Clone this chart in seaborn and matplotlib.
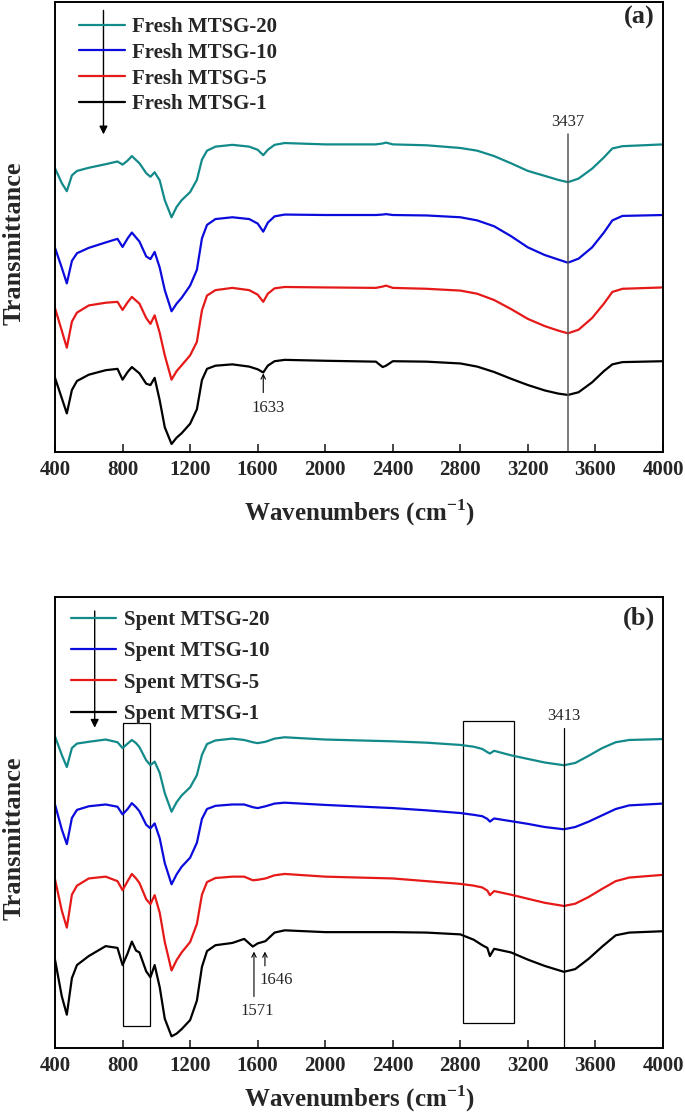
import numpy as np
import pandas as pd
import matplotlib
matplotlib.use("Agg")
import matplotlib.pyplot as plt
import matplotlib.patches as patches
import seaborn as sns

# -------------------------------
# Data (transmittance, arbitrary units, curves already offset)
# -------------------------------
wn_fresh = [400, 440, 470, 500, 530, 600, 700, 770, 800, 830, 855, 900, 940, 965, 990,
            1020, 1050, 1090, 1120, 1150, 1200, 1240, 1270, 1300, 1350, 1450, 1550, 1600,
            1633, 1660, 1700, 1760, 2000, 2300, 2340, 2360, 2400, 2600, 2800, 2900, 3000,
            3100, 3200, 3300, 3380, 3437, 3500, 3580, 3650, 3700, 3760, 4000]

fresh_20 = [63.1, 59.8, 58.0, 61.5, 62.5, 63.2, 64.0, 64.6, 63.9, 64.8, 65.8, 64.2, 62.0, 61.2, 62.2,
            60.4, 56.0, 52.2, 54.5, 56.0, 57.8, 60.5, 65.0, 67.0, 67.9, 68.3, 67.9, 67.2,
            66.0, 67.2, 68.3, 68.7, 68.4, 68.4, 68.6, 68.8, 68.4, 68.2, 67.6, 67.0, 65.8,
            64.2, 62.5, 61.4, 60.5, 60.0, 60.8, 63.0, 65.5, 67.5, 68.0, 68.4]
fresh_10 = [45.4, 41.0, 37.5, 42.5, 44.2, 45.4, 46.6, 47.4, 45.6, 47.5, 48.8, 46.8, 43.5, 42.9, 44.5,
            41.0, 36.0, 31.3, 33.0, 34.3, 37.0, 40.5, 47.5, 50.5, 51.8, 52.2, 51.8, 50.8,
            49.0, 51.0, 52.4, 52.8, 52.7, 52.7, 52.8, 52.9, 52.7, 52.6, 52.2, 51.5, 50.2,
            48.0, 45.5, 43.8, 42.8, 42.1, 43.0, 45.5, 48.8, 51.5, 52.5, 52.7]
fresh_5 = [32.0, 27.0, 23.2, 29.0, 31.0, 32.6, 33.2, 33.4, 31.6, 33.3, 34.5, 33.0, 29.8, 28.5, 30.4,
           26.5, 21.5, 16.1, 18.0, 19.3, 21.5, 24.5, 31.5, 34.8, 36.0, 36.5, 36.0, 35.0,
           33.4, 35.2, 36.4, 36.7, 36.6, 36.5, 36.8, 37.0, 36.5, 36.3, 35.9, 35.2, 33.8,
           31.8, 29.6, 28.0, 27.0, 26.4, 27.2, 29.8, 33.0, 35.6, 36.3, 36.6]
fresh_1 = [16.5, 12.0, 8.6, 13.8, 15.8, 17.2, 18.2, 18.5, 16.1, 17.8, 18.9, 17.5, 15.2, 14.9, 16.5,
           11.5, 5.5, 1.8, 3.2, 4.2, 6.3, 9.5, 16.0, 18.5, 19.2, 19.5, 19.0, 18.4,
           17.7, 19.2, 20.2, 20.5, 20.3, 20.1, 18.9, 19.2, 20.2, 20.1, 19.7, 19.0, 17.8,
           16.3, 14.9, 13.7, 13.0, 12.7, 13.3, 15.5, 18.0, 19.5, 20.0, 20.2]

wn_spent = [400, 440, 470, 500, 530, 600, 700, 770, 800, 830, 855, 880, 900, 940, 965, 990,
            1020, 1050, 1090, 1120, 1150, 1200, 1240, 1270, 1300, 1350, 1450, 1520, 1571,
            1600, 1646, 1700, 1760, 2000, 2400, 2600, 2800, 2880, 2930, 2960, 2975, 3000,
            3100, 3200, 3300, 3413, 3480, 3560, 3640, 3720, 3800, 4000]

spent_20 = [69.1, 65.0, 62.3, 66.5, 67.5, 67.9, 68.4, 67.8, 66.5, 67.5, 68.3, 67.6, 66.7, 63.8, 62.7, 63.5,
            61.0, 56.5, 52.4, 54.5, 56.0, 57.8, 60.5, 65.0, 67.4, 68.2, 68.6, 68.3, 67.8,
            67.6, 67.9, 68.6, 68.9, 68.4, 68.0, 67.7, 67.2, 66.8, 66.3, 65.6, 65.3, 65.9,
            64.9, 64.1, 63.3, 62.7, 63.2, 64.8, 66.5, 67.8, 68.3, 68.5]
spent_10 = [54.0, 48.5, 45.2, 51.0, 52.8, 53.6, 54.0, 53.5, 51.8, 53.0, 54.3, 53.4, 52.5, 49.5, 48.7, 49.8,
            46.5, 41.0, 36.3, 38.5, 40.2, 42.2, 45.5, 50.8, 53.0, 53.7, 54.0, 54.0, 53.4,
            53.2, 53.6, 54.2, 54.4, 53.9, 53.2, 52.7, 52.1, 51.7, 51.4, 50.8, 50.2, 50.9,
            50.3, 49.7, 49.0, 48.5, 49.0, 50.2, 51.6, 53.0, 53.8, 54.2]
spent_5 = [37.4, 30.5, 26.7, 34.0, 36.0, 37.6, 38.0, 37.0, 35.0, 37.0, 38.6, 37.6, 36.6, 33.0, 31.9, 33.9,
           30.0, 23.5, 17.2, 19.5, 21.2, 23.5, 27.5, 34.0, 36.8, 37.7, 38.0, 38.0, 37.2,
           37.3, 37.6, 38.3, 38.6, 38.0, 37.6, 37.0, 36.4, 36.0, 35.6, 34.9, 33.9, 34.8,
           34.0, 33.1, 32.2, 31.5, 32.0, 33.5, 35.3, 37.0, 37.8, 38.4]
spent_1 = [19.6, 11.5, 7.4, 15.5, 18.4, 20.4, 22.6, 22.2, 18.4, 21.0, 23.6, 21.6, 21.2, 17.0, 15.7, 18.4,
           13.5, 6.5, 2.6, 3.2, 4.2, 6.2, 10.5, 18.0, 21.5, 22.8, 23.3, 24.2, 22.5,
           23.2, 23.7, 25.6, 26.1, 25.7, 25.7, 25.6, 25.2, 24.0, 22.8, 22.2, 20.4, 22.0,
           21.2, 19.6, 18.2, 16.9, 17.5, 19.8, 22.5, 25.0, 25.6, 25.9]

fresh_names = ["Fresh MTSG-20", "Fresh MTSG-10", "Fresh MTSG-5", "Fresh MTSG-1"]
spent_names = ["Spent MTSG-20", "Spent MTSG-10", "Spent MTSG-5", "Spent MTSG-1"]
colors = ["#138a8a", "#0b0bdc", "#e61919", "#000000"]
xticks = [400, 800, 1200, 1600, 2000, 2400, 2800, 3200, 3600, 4000]

# -------------------------------
# Long-form tables
# -------------------------------
def make_long(wn, series, names):
    frames = []
    for name, vals in zip(names, series):
        frames.append(pd.DataFrame({"wn": wn, "T": vals, "sample": name}))
    return pd.concat(frames, ignore_index=True)

df_fresh = make_long(wn_fresh, [fresh_20, fresh_10, fresh_5, fresh_1], fresh_names)
df_spent = make_long(wn_spent, [spent_20, spent_10, spent_5, spent_1], spent_names)

# -------------------------------
# Style
# -------------------------------
sns.set_style("white")
plt.rcParams["font.family"] = ["Liberation Serif", "DejaVu Serif"]
plt.rcParams["mathtext.fontset"] = "custom"
plt.rcParams["mathtext.rm"] = "Liberation Serif"
plt.rcParams["mathtext.bf"] = "Liberation Serif:bold"

fig = plt.figure(figsize=(6.85, 11.19), dpi=100)
ax_a = fig.add_axes([0.0803, 0.596, 0.8876, 0.402])
ax_b = fig.add_axes([0.0803, 0.0634, 0.8876, 0.4031])


def style_axis(ax, data, names, legend_x, legend_y, spacing, xpad):
    sns.lineplot(data=data, x="wn", y="T", hue="sample", hue_order=names,
                 palette=colors, sort=False, estimator=None, lw=1.6, ax=ax)
    ax.set_xlim(400, 4000)
    ax.set_ylim(0, 100)
    ax.set_xticks(xticks)
    ax.set_yticks([])
    ax.tick_params(axis="x", direction="in", length=6, width=1.2, pad=6,
                   labelsize=15, bottom=True, top=False)
    for lab in ax.get_xticklabels():
        lab.set_fontweight("bold")
    for sp in ax.spines.values():
        sp.set_linewidth(1.4)
        sp.set_color("black")
    ax.set_xlabel(r"Wavenumbers (cm$^{\mathbf{-1}}$)", fontsize=18,
                  fontweight="bold", labelpad=xpad)
    ax.set_ylabel("Transmittance", fontsize=19, fontweight="bold")
    ax.yaxis.set_label_coords(-0.048, 0.465)
    handles, labels = ax.get_legend_handles_labels()
    ax.legend(handles, labels, loc="upper left", bbox_to_anchor=(legend_x, legend_y),
              frameon=False, handlelength=2.2, handletextpad=0.35,
              labelspacing=spacing, borderaxespad=0,
              prop={"weight": "bold", "size": 15})


# -------------------------------
# Panel (a) Fresh
# -------------------------------
style_axis(ax_a, df_fresh, fresh_names, 0.0254, 0.986, 0.28, 12)
ax_a.text(0.987, 0.967, "(a)", transform=ax_a.transAxes, ha="right", va="center",
          fontsize=19, fontweight="bold")
ax_a.annotate("", xy=(687, 70), xytext=(687, 98.8),
              arrowprops=dict(arrowstyle="-|>", color="k", lw=1, mutation_scale=12))
ax_a.plot([3437, 3437], [0, 70.7], color="#555555", lw=1.1)
ax_a.text(3437, 73.3, "3437", ha="center", va="center", fontsize=12)
ax_a.annotate("", xy=(1633, 18.1), xytext=(1633, 12.6),
              arrowprops=dict(arrowstyle="->", color="k", lw=0.8, mutation_scale=8))
ax_a.text(1660, 9.7, "1633", ha="center", va="center", fontsize=12)

# -------------------------------
# Panel (b) Spent
# -------------------------------
style_axis(ax_b, df_spent, spent_names, 0.012, 0.99, 0.55, 5)
ax_b.text(0.987, 0.953, "(b)", transform=ax_b.transAxes, ha="right", va="center",
          fontsize=19, fontweight="bold")
ax_b.annotate("", xy=(635, 70.4), xytext=(635, 97.5),
              arrowprops=dict(arrowstyle="-|>", color="k", lw=1, mutation_scale=12))
ax_b.plot([3413, 3413], [0, 70.9], color="black", lw=0.9)
ax_b.text(3413, 73.6, "3413", ha="center", va="center", fontsize=12)
ax_b.add_patch(patches.Rectangle((800, 4.9), 160, 67.1, fill=False, lw=0.9, ec="black"))
ax_b.add_patch(patches.Rectangle((2813, 5.6), 305, 66.8, fill=False, lw=0.9, ec="black"))
ax_b.annotate("", xy=(1578, 22.0), xytext=(1578, 10.8),
              arrowprops=dict(arrowstyle="->", color="k", lw=0.8, mutation_scale=8))
ax_b.text(1600, 8.3, "1571", ha="center", va="center", fontsize=12)
ax_b.annotate("", xy=(1643, 22.0), xytext=(1643, 17.6),
              arrowprops=dict(arrowstyle="->", color="k", lw=0.8, mutation_scale=8))
ax_b.text(1712, 15.0, "1646", ha="center", va="center", fontsize=12)

plt.savefig("out.png", dpi=100)
